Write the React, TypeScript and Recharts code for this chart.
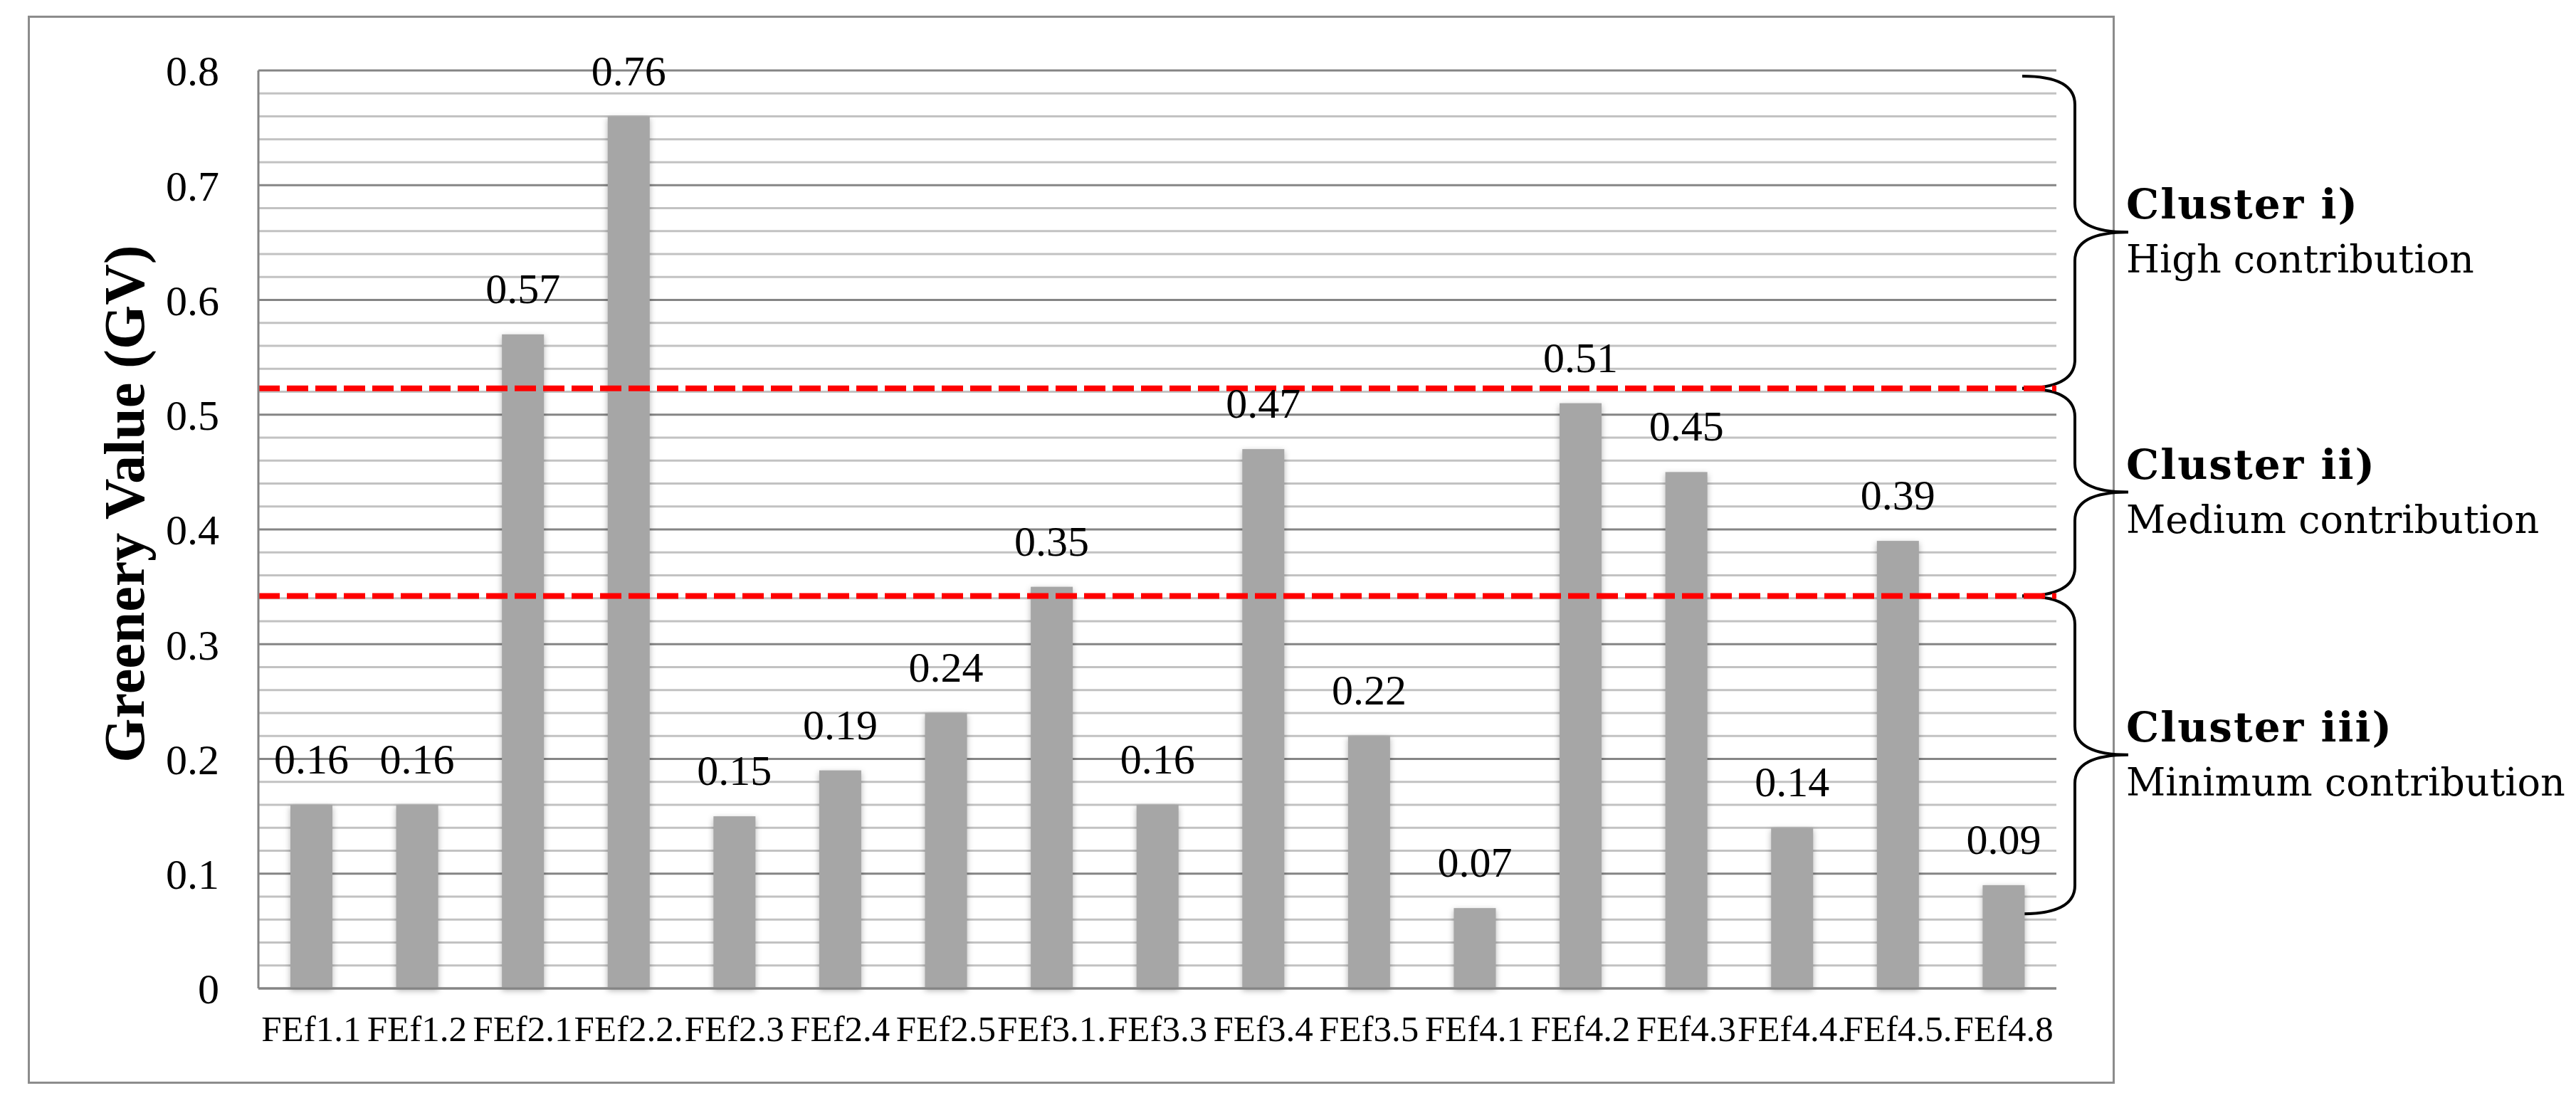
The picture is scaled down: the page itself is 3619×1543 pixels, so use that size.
import {
  BarChart,
  Bar,
  XAxis,
  YAxis,
  CartesianGrid,
  LabelList,
  Label,
  ReferenceLine,
  ReferenceArea,
} from 'recharts'

const categories = [
  'FEf1.1', 'FEf1.2', 'FEf2.1', 'FEf2.2.', 'FEf2.3', 'FEf2.4', 'FEf2.5', 'FEf3.1.', 'FEf3.3',
  'FEf3.4', 'FEf3.5', 'FEf4.1', 'FEf4.2', 'FEf4.3', 'FEf4.4.', 'FEf4.5.', 'FEf4.8',
]
const greeneryValues = [
  0.16, 0.16, 0.57, 0.76, 0.15, 0.19, 0.24, 0.35, 0.16, 0.47, 0.22, 0.07, 0.51, 0.45, 0.14, 0.39, 0.09,
]
const yTicks = [
  0, 0.02, 0.04, 0.06, 0.08, 0.1, 0.12, 0.14, 0.16, 0.18, 0.2, 0.22, 0.24, 0.26, 0.28, 0.3,
  0.32, 0.34, 0.36, 0.38, 0.4, 0.42, 0.44, 0.46, 0.48, 0.5, 0.52, 0.54, 0.56, 0.58, 0.6,
  0.62, 0.64, 0.66, 0.68, 0.7, 0.72, 0.74, 0.76, 0.78, 0.8,
]
const thresholds = [0.523, 0.342]
const clusterNames = ['Cluster i)', 'Cluster ii)', 'Cluster iii)']
const clusterDescriptions = ['High contribution', 'Medium contribution', 'Minimum contribution']
const clusterTop = [0.795, 0.523, 0.342]
const clusterBottom = [0.523, 0.342, 0.065]

const data = categories.map((name, i) => ({ name, value: greeneryValues[i] }))

const serif = "'Liberation Serif', 'Times New Roman', serif"
const clusterFont = "'DejaVu Serif', serif"

const formatTick = (v: number) => {
  const hundredths = Math.round(v * 100)
  if (hundredths % 10 !== 0) return ''
  return hundredths === 0 ? '0' : (hundredths / 100).toFixed(1)
}

const GridLine = (p: any) => {
  const val = ((p.y + p.height - p.y1) / p.height) * 0.8
  const major = Math.round(val * 50) % 5 === 0
  return (
    <line
      key={p.key}
      x1={p.x1}
      x2={p.x2}
      y1={p.y1}
      y2={p.y2}
      stroke={major ? '#858585' : '#c2c2c2'}
      strokeWidth={3}
    />
  )
}

const ShadowBar = (p: any) => (
  <rect
    x={p.x}
    y={p.y}
    width={p.width}
    height={p.height}
    fill="#a6a6a6"
    style={{ filter: 'drop-shadow(0px 3px 4px rgba(0,0,0,0.3))' }}
  />
)

const YTitle = (p: any) => {
  const vb = p.viewBox
  const cx = vb.x + vb.width / 2 - 7
  const cy = vb.y + vb.height / 2 - 36
  return (
    <text
      x={cx}
      y={cy}
      transform={`rotate(-90 ${cx} ${cy})`}
      textAnchor="middle"
      dominantBaseline="central"
      style={{ fontFamily: serif, fontSize: 80, fontWeight: 'bold', fill: '#000' }}
    >
      Greenery Value (GV)
    </text>
  )
}

const makeBrace = (idx: number) => (p: any) => {
  const right = p.x + p.width
  const x0 = right - 48
  const xm = right + 26
  const xt = right + 101
  const y1 = p.y
  const y2 = p.y + p.height
  const ym = (y1 + y2) / 2
  const r = 40
  const d = `M ${x0} ${y1} Q ${xm} ${y1} ${xm} ${y1 + r} L ${xm} ${ym - r} Q ${xm} ${ym} ${xt} ${ym}
    Q ${xm} ${ym} ${xm} ${ym + r} L ${xm} ${y2 - r} Q ${xm} ${y2} ${x0} ${y2}`
  return (
    <g>
      <path d={d} fill="none" stroke="#000" strokeWidth={4} />
      <text
        x={right + 98}
        y={ym - 19}
        style={{ fontFamily: clusterFont, fontWeight: 'bold', fontSize: 58, letterSpacing: 2, fill: '#000' }}
      >
        {clusterNames[idx]}
      </text>
      <text x={right + 98} y={ym + 57} style={{ fontFamily: clusterFont, fontSize: 54, fill: '#000' }}>
        {clusterDescriptions[idx]}
      </text>
    </g>
  )
}

export default function App() {
  return (
    <div style={{ position: 'absolute', left: 0, top: 0, width: 3619, height: 1543, background: '#fff' }}>
      <div
        style={{
          position: 'absolute',
          left: 39,
          top: 22,
          width: 2926,
          height: 1495,
          border: '3px solid #8c8c8c',
        }}
      />
      <div style={{ position: 'absolute', left: 0, top: 0 }}>
        <BarChart
          width={3619}
          height={1543}
          data={data}
          margin={{ top: 99, right: 730, bottom: 0, left: 0 }}
        >
          <CartesianGrid vertical={false} horizontal={GridLine} />
          <XAxis
            dataKey="name"
            interval={0}
            height={154}
            tickLine={false}
            tickMargin={32}
            axisLine={{ stroke: '#858585', strokeWidth: 3 }}
            tick={{ fontSize: 51, fill: '#000', fontFamily: serif }}
          />
          <YAxis
            width={363}
            domain={[0, 0.8]}
            ticks={yTicks}
            interval={0}
            tickLine={false}
            tickMargin={49}
            tickFormatter={formatTick}
            axisLine={{ stroke: '#858585', strokeWidth: 3 }}
            tick={{ fontSize: 60, fill: '#000', fontFamily: serif }}
          >
            <Label position="center" content={YTitle} />
          </YAxis>
          <Bar dataKey="value" barSize={59} shape={ShadowBar} isAnimationActive={false}>
            <LabelList
              dataKey="value"
              position="top"
              offset={44}
              formatter={(v: any) => Number(v).toFixed(2)}
              fontSize={60}
              fill="#000"
              fontFamily={serif}
            />
          </Bar>
          {thresholds.map((t) => (
            <ReferenceLine key={t} y={t} stroke="#ff0000" strokeWidth={8} strokeDasharray="30 10" />
          ))}
          {clusterNames.map((n, i) => (
            <ReferenceArea
              key={n}
              y1={clusterBottom[i]}
              y2={clusterTop[i]}
              ifOverflow="visible"
              shape={makeBrace(i)}
            />
          ))}
        </BarChart>
      </div>
    </div>
  )
}
